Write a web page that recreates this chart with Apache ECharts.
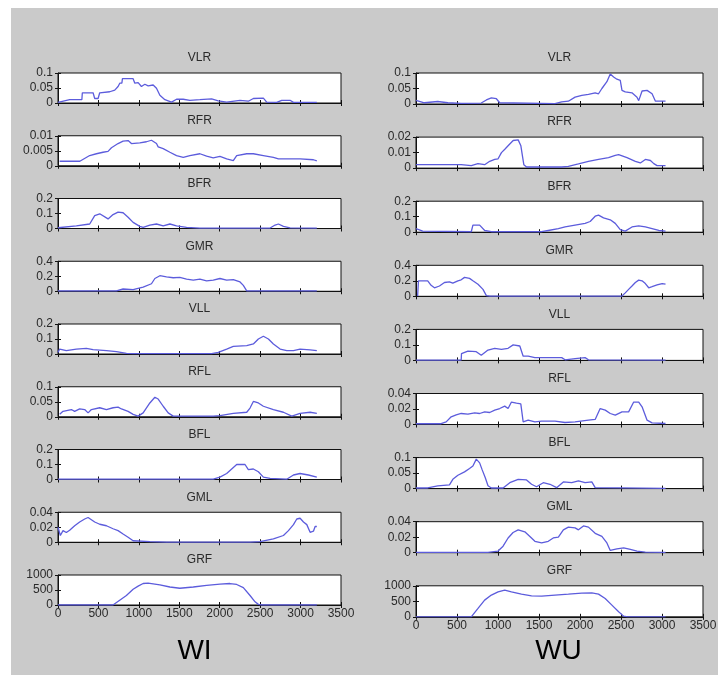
<!DOCTYPE html>
<html><head><meta charset="utf-8">
<script src="https://cdn.jsdelivr.net/npm/echarts@6/dist/echarts.min.js"></script>
<style>
html,body{margin:0;padding:0;background:#fff;}
#bg{position:absolute;left:11px;top:8px;width:707px;height:667px;background:#cacaca;}
#main{position:absolute;left:0;top:0;width:724px;height:675px;}
</style></head>
<body><div id="bg"></div><div id="main"></div>
<script>
// ---------- DATA ----------
const muscles = ['VLR','RFR','BFR','GMR','VLL','RFL','BFL','GML','GRF'];
const columnLabels = ['WI','WU'];
const xMin = 0, xMax = 3500, xStep = 500;
const yMaxWI = [0.1, 0.01, 0.2, 0.4, 0.2, 0.1, 0.2, 0.04, 1000];
const yMaxWU = [0.1, 0.02, 0.2, 0.4, 0.2, 0.04, 0.1, 0.04, 1000];

// WI column
const wiVLR = [[0,0.002],[145,0.011],[295,0.011],[301,0.034],[434,0.034],[454,0.015],[496,0.015],[516,0.034],[640,0.0375],[702,0.043],[743,0.055],[764,0.066],[790,0.066],[797,0.081],[929,0.081],[950,0.066],[991,0.068],[1032,0.055],[1074,0.0625],[1115,0.057],[1177,0.06],[1218,0.049],[1260,0.026],[1322,0.011],[1404,0.003],[1466,0.0125],[1549,0.0125],[1631,0.009],[1755,0.011],[1900,0.0136],[1982,0.007],[2086,0.003],[2251,0.009],[2354,0.006],[2416,0.015],[2540,0.016],[2581,0.003],[2705,0.002],[2767,0.009],[2870,0.009],[2912,0.002],[3201,0.002]];
const wiRFR = [[20,0.0015],[270,0.0015],[392,0.0034],[475,0.004],[557,0.0045],[619,0.0048],[661,0.006],[743,0.0074],[805,0.0082],[867,0.0084],[908,0.0074],[1012,0.0076],[1094,0.008],[1156,0.0085],[1218,0.0074],[1239,0.0063],[1301,0.0057],[1384,0.0045],[1466,0.0034],[1549,0.0028],[1631,0.0034],[1755,0.004],[1838,0.0032],[1920,0.0026],[2003,0.0031],[2086,0.0023],[2168,0.0017],[2210,0.0034],[2334,0.004],[2416,0.004],[2540,0.0034],[2664,0.0028],[2726,0.0023],[2994,0.0023],[3159,0.002],[3201,0.0016]];
const wiBFR = [[0,0.005],[227,0.018],[392,0.03],[454,0.086],[516,0.098],[619,0.064],[681,0.093],[743,0.109],[805,0.105],[867,0.075],[929,0.041],[1012,0.014],[1053,0.007],[1136,0.023],[1218,0.03],[1301,0.018],[1384,0.03],[1466,0.018],[1590,0.007],[1755,0.003],[2623,0.003],[2685,0.023],[2726,0.03],[2788,0.014],[2870,0.004],[3201,0.003]];
const wiGMR = [[0,0.005],[723,0.005],[805,0.03],[929,0.023],[1053,0.055],[1156,0.1],[1198,0.17],[1260,0.207],[1342,0.193],[1425,0.18],[1507,0.184],[1590,0.161],[1673,0.147],[1755,0.161],[1838,0.138],[1920,0.147],[2003,0.17],[2086,0.147],[2168,0.156],[2251,0.124],[2292,0.078],[2334,0.005],[3201,0.005]];
const wiVLL = [[0,0.011],[21,0.033],[103,0.022],[227,0.033],[351,0.038],[434,0.029],[599,0.022],[723,0.016],[847,0.004],[929,0.002],[1900,0.002],[1982,0.011],[2086,0.033],[2168,0.051],[2334,0.056],[2416,0.067],[2478,0.1],[2540,0.118],[2602,0.1],[2664,0.067],[2747,0.033],[2829,0.022],[2912,0.022],[2994,0.033],[3118,0.027],[3201,0.022]];
const wiRFL = [[21,0.008],[62,0.018],[165,0.024],[206,0.018],[268,0.026],[330,0.024],[372,0.013],[413,0.024],[516,0.03],[599,0.024],[681,0.03],[743,0.032],[785,0.026],[867,0.018],[929,0.008],[991,0.002],[1053,0.013],[1136,0.046],[1198,0.065],[1239,0.059],[1301,0.035],[1363,0.013],[1425,0.002],[1920,0.002],[2003,0.004],[2168,0.011],[2334,0.015],[2375,0.029],[2416,0.051],[2478,0.046],[2540,0.035],[2664,0.024],[2788,0.015],[2891,0.002],[2994,0.011],[3118,0.015],[3201,0.011]];
const wiBFL = [[0,0.002],[1920,0.002],[2003,0.016],[2086,0.04],[2148,0.07],[2210,0.1],[2313,0.1],[2354,0.066],[2416,0.07],[2478,0.052],[2540,0.016],[2623,0.007],[2829,0.002],[2912,0.03],[2994,0.04],[3097,0.03],[3201,0.016]];
const wiGML = [[0,0.02],[29,0.009],[62,0.0155],[103,0.013],[144,0.016],[206,0.022],[268,0.027],[330,0.031],[372,0.033],[413,0.03],[454,0.027],[516,0.024],[599,0.022],[681,0.018],[743,0.0155],[805,0.011],[867,0.0067],[929,0.002],[1136,0.0009],[1342,0.0003],[2375,0.0003],[2499,0.0009],[2664,0.0044],[2788,0.009],[2850,0.0155],[2912,0.0235],[2953,0.031],[2994,0.032],[3036,0.027],[3077,0.0235],[3118,0.0133],[3159,0.0147],[3180,0.021],[3201,0.021]];
const wiGRF = [[0,0],[680,0],[846,316],[929,526],[991,630],[1053,716],[1115,726],[1260,674],[1384,600],[1507,558],[1673,600],[1838,653],[2003,695],[2127,716],[2210,684],[2292,579],[2375,316],[2437,105],[2478,21],[2520,0],[3201,0]];

// WU column
const wuVLR = [[0,0.012],[20,0.009],[102,0.004],[265,0.008],[388,0.004],[551,0.002],[796,0.003],[858,0.013],[919,0.02],[980,0.017],[1021,0.004],[1041,0.001],[1695,0.001],[1777,0.007],[1858,0.009],[1940,0.022],[2022,0.028],[2103,0.031],[2185,0.036],[2226,0.033],[2267,0.05],[2328,0.072],[2369,0.097],[2410,0.087],[2450,0.08],[2491,0.076],[2512,0.044],[2552,0.039],[2634,0.036],[2695,0.022],[2716,0.011],[2757,0.042],[2818,0.044],[2879,0.033],[2920,0.009],[3043,0.009]];
const wuRFR = [[0,0.0022],[551,0.0022],[674,0.0016],[755,0.0029],[837,0.0022],[899,0.0044],[960,0.0056],[1001,0.006],[1042,0.01],[1083,0.0122],[1123,0.0144],[1185,0.0178],[1246,0.0182],[1279,0.0144],[1295,0.0089],[1315,0.0022],[1348,0.0007],[1777,0.0007],[1858,0.0011],[1981,0.0027],[2103,0.0044],[2226,0.0056],[2348,0.0067],[2430,0.0082],[2471,0.0087],[2573,0.0067],[2675,0.0044],[2736,0.0033],[2797,0.0056],[2859,0.0049],[2900,0.0029],[2940,0.0016],[3043,0.0016]];
const wuBFR = [[0,0.023],[20,0.023],[82,0.007],[674,0.003],[694,0.046],[776,0.046],[838,0.011],[919,0.003],[1532,0.003],[1613,0.011],[1736,0.023],[1818,0.034],[1940,0.046],[2062,0.057],[2124,0.069],[2185,0.103],[2226,0.11],[2287,0.092],[2369,0.08],[2430,0.057],[2491,0.016],[2552,0.007],[2634,0.034],[2716,0.041],[2797,0.034],[2879,0.023],[2961,0.011],[3043,0.007]];
const wuGMR = [[20,0.005],[30,0.2],[143,0.2],[184,0.142],[225,0.11],[286,0.133],[347,0.178],[408,0.187],[449,0.169],[511,0.2],[551,0.213],[592,0.244],[653,0.231],[694,0.2],[756,0.156],[817,0.089],[858,0.009],[900,0.003],[2512,0.003],[2552,0.044],[2593,0.089],[2634,0.133],[2675,0.178],[2716,0.209],[2757,0.2],[2797,0.164],[2838,0.11],[2879,0.124],[2940,0.147],[3002,0.164],[3043,0.156]];
const wuVLL = [[0,0.002],[551,0.002],[555,0.044],[633,0.06],[735,0.056],[796,0.033],[878,0.067],[960,0.078],[1042,0.071],[1123,0.078],[1144,0.067],[1185,0.1],[1266,0.093],[1307,0.027],[1368,0.027],[1450,0.018],[1777,0.018],[1818,0.004],[1940,0.011],[2062,0.018],[2103,0.004],[3043,0.002]];
const wuRFL = [[0,0.001],[306,0.001],[368,0.0034],[429,0.0099],[490,0.0125],[551,0.0142],[633,0.0133],[715,0.015],[776,0.0142],[837,0.0163],[899,0.0155],[960,0.0185],[1021,0.0206],[1082,0.0237],[1123,0.0206],[1164,0.029],[1225,0.0275],[1278,0.0267],[1307,0.0034],[1368,0.0056],[1450,0.0034],[1532,0.0043],[1695,0.0043],[1817,0.0026],[1940,0.0034],[2103,0.0056],[2185,0.0065],[2246,0.0206],[2308,0.0185],[2369,0.0142],[2430,0.012],[2512,0.0163],[2593,0.0163],[2614,0.0185],[2655,0.029],[2716,0.029],[2757,0.0228],[2818,0.0056],[2879,0.0021],[3043,0.0013]];
const wuBFL = [[0,0.002],[143,0.002],[265,0.009],[408,0.012],[449,0.03],[511,0.043],[592,0.054],[653,0.065],[694,0.073],[735,0.095],[776,0.083],[805,0.062],[845,0.035],[878,0.009],[919,0.002],[1062,0.002],[1144,0.019],[1246,0.03],[1348,0.028],[1409,0.014],[1470,0.006],[1552,0.019],[1634,0.014],[1715,0.003],[1797,0.0215],[1899,0.019],[1981,0.025],[2062,0.019],[2144,0.0215],[2185,0.003],[3043,0.001]];
const wuGML = [[0,0.0005],[878,0.0005],[1001,0.0021],[1062,0.0084],[1123,0.019],[1184,0.026],[1246,0.0295],[1327,0.027],[1389,0.021],[1450,0.0147],[1532,0.0126],[1613,0.0147],[1674,0.019],[1736,0.0202],[1797,0.0295],[1858,0.033],[1940,0.032],[1981,0.0295],[2042,0.0345],[2103,0.033],[2185,0.025],[2267,0.021],[2328,0.0126],[2369,0.0029],[2450,0.005],[2532,0.0063],[2614,0.0042],[2695,0.0021],[2797,0.0008],[3043,0.0003]];
const wuGRF = [[0,0],[674,0],[756,269],[837,538],[919,700],[1001,806],[1082,860],[1164,806],[1286,731],[1409,677],[1532,667],[1695,700],[1858,731],[2022,763],[2144,774],[2226,731],[2307,591],[2389,376],[2471,161],[2532,22],[2580,0],[3043,0]];

const seriesWI = [wiVLR, wiRFR, wiBFR, wiGMR, wiVLL, wiRFL, wiBFL, wiGML, wiGRF];
const seriesWU = [wuVLR, wuRFR, wuBFR, wuGMR, wuVLL, wuRFL, wuBFL, wuGML, wuGRF];

// ---------- LAYOUT ----------
const cols = [
  {left:58, width:283, top0:73, step:62.75, height:30, cx:199.5, labelX:194.5, data:seriesWI, ymax:yMaxWI},
  {left:416, width:287, top0:73, step:64.1, height:31, cx:559.5, labelX:558.5, data:seriesWU, ymax:yMaxWU}
];
const FONT = 'Liberation Sans, Arial, sans-serif';
const TXT = '#2a2a2a';
const LINE = '#5c5cdc';

const grid = [], xAxis = [], yAxis = [], series = [], graphic = [];
cols.forEach((c, ci) => {
  muscles.forEach((m, i) => {
    const g = ci * 9 + i;
    const top = c.top0 + i * c.step;
    grid.push({left:c.left, top:top, width:c.width, height:c.height, show:true,
      backgroundColor:'#ffffff', borderColor:'#111', borderWidth:1, containLabel:false});
    const isBottom = (i === muscles.length - 1);
    const ymax = c.ymax[i];
    const xBase = {type:'value', gridIndex:g, min:xMin, max:xMax, interval:xStep,
      splitLine:{show:false}, axisTick:{show:true, inside:true, length:3, lineStyle:{color:'#111'}}};
    xAxis.push(Object.assign({}, xBase, {position:'bottom',
      axisLine:{show:true, onZero:false, lineStyle:{color:'#111', width:1}},
      axisLabel:{show:isBottom, color:TXT, fontFamily:FONT, fontSize:12, margin:3, formatter:v=>String(v)}}));
    xAxis.push(Object.assign({}, xBase, {position:'top',
      axisLine:{show:false}, axisLabel:{show:false}}));
    const yBase = {type:'value', gridIndex:g, min:0, max:ymax, interval:ymax/2,
      splitLine:{show:false}, axisTick:{show:true, inside:true, length:3, lineStyle:{color:'#111'}}};
    yAxis.push(Object.assign({}, yBase, {position:'left',
      axisLine:{show:true, onZero:false, lineStyle:{color:'#111', width:1}},
      axisLabel:{show:true, color:TXT, fontFamily:FONT, fontSize:12, margin:5,
        formatter:v=>String(parseFloat(v.toPrecision(6)))}}));
    yAxis.push(Object.assign({}, yBase, {position:'right',
      axisLine:{show:false}, axisLabel:{show:false}}));
    series.push({type:'line', xAxisIndex:2*g, yAxisIndex:2*g, data:c.data[i],
      showSymbol:false, symbol:'none', clip:true, silent:true, animation:false,
      lineStyle:{color:LINE, width:1.3}});
    graphic.push({type:'text', x:c.cx, y:top - 15, silent:true,
      style:{text:m, textAlign:'center', textVerticalAlign:'middle', fill:TXT, font:'12px ' + FONT}});
  });
  graphic.push({type:'text', x:c.labelX, y:651, silent:true,
    style:{text:columnLabels[ci], textAlign:'center', textVerticalAlign:'middle', fill:'#000', font:'28px ' + FONT}});
});

const chart = echarts.init(document.getElementById('main'), null, {renderer:'canvas'});
chart.setOption({animation:false, backgroundColor:'transparent', grid, xAxis, yAxis, series, graphic});
</script></body></html>
